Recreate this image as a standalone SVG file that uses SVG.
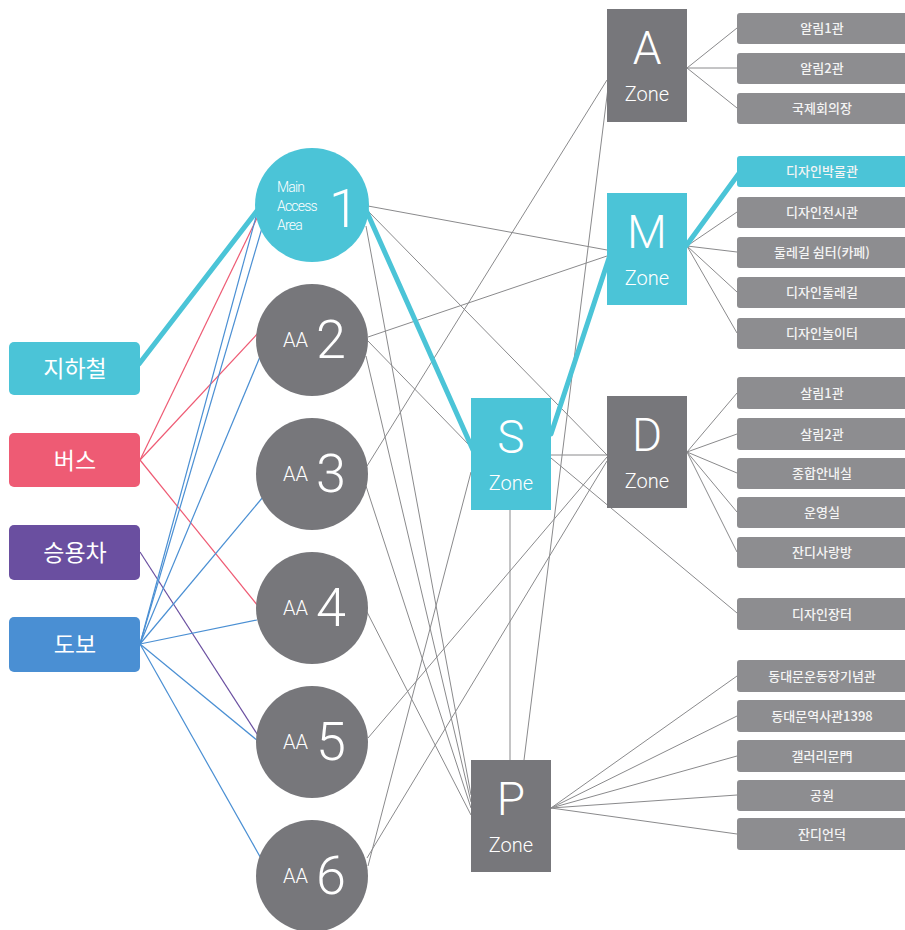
<svg xmlns="http://www.w3.org/2000/svg" width="905" height="930" viewBox="0 0 905 930">
<style>
.bg{fill:#ffffff}
.cy{fill:#4BC4D7}
.gz{fill:#77777B}
.it{fill:#8D8D90}
.ln{stroke:#8A8A8C;stroke-width:1;fill:none}
.thk{stroke:#4BC4D7;stroke-width:5;fill:none;stroke-linecap:round}
.red{stroke:#EE5B74;stroke-width:1.2;fill:none}
.blu{stroke:#4A8FD3;stroke-width:1.2;fill:none}
.pur{stroke:#6A4FA0;stroke-width:1.2;fill:none}
.kor{font-family:"Noto Sans CJK KR","Noto Sans",sans-serif;fill:#ffffff;text-anchor:middle}
.big{font-size:23px;font-weight:400}
.itx{font-size:13px;font-weight:500;fill:#F4F4F4}
.lat{font-family:Roboto,"Liberation Sans",sans-serif;font-weight:300;fill:#ffffff}
.zl{font-size:46px;text-anchor:middle}
.zn{font-size:20px;text-anchor:middle}
.aa{font-size:20px}
.dg{font-size:54px}
.ma{font-size:14px;letter-spacing:-0.8px}
</style>
<rect class="bg" x="0" y="0" width="905" height="930"/>
<g id="connectors">
<!-- left -->
<line class="red" x1="140" y1="460" x2="258" y2="216"/>
<line class="red" x1="140" y1="460" x2="260" y2="331"/>
<line class="red" x1="140" y1="460" x2="258" y2="606"/>
<line class="pur" x1="140" y1="552" x2="259" y2="737"/>
<line class="blu" x1="140" y1="644" x2="257" y2="213"/>
<line class="blu" x1="140" y1="644" x2="262" y2="228"/>
<line class="blu" x1="140" y1="644" x2="262" y2="352"/>
<line class="blu" x1="140" y1="644" x2="263" y2="497"/>
<line class="blu" x1="140" y1="644" x2="257" y2="620"/>
<line class="blu" x1="140" y1="644" x2="258" y2="741"/>
<line class="blu" x1="140" y1="644" x2="263" y2="862"/>
<!-- middle -->
<line class="ln" x1="368" y1="206" x2="607" y2="250"/>
<line class="ln" x1="369" y1="212" x2="607" y2="455"/>
<line class="ln" x1="366" y1="226" x2="471" y2="795"/>
<line class="ln" x1="368" y1="337" x2="607" y2="256"/>
<line class="ln" x1="368" y1="341" x2="471" y2="447"/>
<line class="ln" x1="366" y1="356" x2="471" y2="802"/>
<line class="ln" x1="367" y1="466" x2="607" y2="80"/>
<line class="ln" x1="366" y1="486" x2="471" y2="808"/>
<line class="ln" x1="367" y1="612" x2="471" y2="815"/>
<line class="ln" x1="368" y1="738" x2="607" y2="457"/>
<line class="ln" x1="367" y1="858" x2="607" y2="461"/>
<line class="ln" x1="368" y1="866" x2="471" y2="472"/>
<line class="ln" x1="551" y1="455" x2="607" y2="455"/>
<line class="ln" x1="551" y1="458" x2="737" y2="613"/>
<line class="ln" x1="510" y1="510" x2="510" y2="760"/>
<line class="ln" x1="524" y1="760" x2="608" y2="88"/>
<!-- zone to items -->
<line class="ln" x1="687" y1="68" x2="737" y2="28"/>
<line class="ln" x1="687" y1="68" x2="737" y2="68"/>
<line class="ln" x1="687" y1="68" x2="737" y2="108"/>
<line class="ln" x1="687" y1="246" x2="737" y2="212"/>
<line class="ln" x1="687" y1="246" x2="737" y2="252"/>
<line class="ln" x1="687" y1="246" x2="737" y2="292"/>
<line class="ln" x1="687" y1="246" x2="737" y2="333"/>
<line class="ln" x1="687" y1="452" x2="737" y2="393"/>
<line class="ln" x1="687" y1="452" x2="737" y2="434"/>
<line class="ln" x1="687" y1="452" x2="737" y2="473"/>
<line class="ln" x1="687" y1="452" x2="737" y2="512"/>
<line class="ln" x1="687" y1="452" x2="737" y2="552"/>
<line class="ln" x1="551" y1="808" x2="737" y2="676"/>
<line class="ln" x1="551" y1="808" x2="737" y2="716"/>
<line class="ln" x1="551" y1="808" x2="737" y2="756"/>
<line class="ln" x1="551" y1="808" x2="737" y2="795"/>
<line class="ln" x1="551" y1="808" x2="737" y2="834"/>
<!-- thick main route -->
<line class="thk" x1="139" y1="364" x2="260" y2="207"/>
<line class="thk" x1="366" y1="210" x2="473" y2="450"/>
<line class="thk" x1="551" y1="434" x2="609" y2="258"/>
<line class="thk" x1="686" y1="246" x2="740" y2="172"/>
</g>
<g id="n-subway"><rect class="cy" x="9" y="342" width="131" height="53" rx="5"/><text class="kor big" x="75" y="377">지하철</text></g>
<g id="n-bus"><rect x="9" y="433" width="131" height="54" rx="5" fill="#EE5B74"/><text class="kor big" x="75" y="469">버스</text></g>
<g id="n-car"><rect x="9" y="525" width="131" height="55" rx="5" fill="#6A4FA0"/><text class="kor big" x="75" y="561">승용차</text></g>
<g id="n-walk"><rect x="9" y="617" width="131" height="55" rx="5" fill="#4A8FD3"/><text class="kor big" x="75" y="653">도보</text></g>

<g id="n-aa1"><circle class="cy" cx="312" cy="205" r="57"/>
<text class="lat ma" x="277" y="192">Main</text><text class="lat ma" x="277" y="211">Access</text><text class="lat ma" x="277" y="230">Area</text>
<text class="lat dg" x="329" y="227">1</text></g>
<g id="n-aa2"><circle class="gz" cx="312" cy="340" r="56"/><text class="lat aa" x="283" y="347">AA</text><text class="lat dg" x="316" y="358">2</text></g>
<g id="n-aa3"><circle class="gz" cx="312" cy="474" r="56"/><text class="lat aa" x="283" y="481">AA</text><text class="lat dg" x="316" y="492">3</text></g>
<g id="n-aa4"><circle class="gz" cx="312" cy="608" r="56"/><text class="lat aa" x="283" y="615">AA</text><text class="lat dg" x="316" y="626">4</text></g>
<g id="n-aa5"><circle class="gz" cx="312" cy="742" r="56"/><text class="lat aa" x="283" y="749">AA</text><text class="lat dg" x="316" y="760">5</text></g>
<g id="n-aa6"><circle class="gz" cx="312" cy="876" r="56"/><text class="lat aa" x="283" y="883">AA</text><text class="lat dg" x="316" y="894">6</text></g>

<g id="z-a"><rect class="gz" x="607" y="9" width="80" height="113"/><text class="lat zl" x="647" y="64">A</text><text class="lat zn" x="647" y="101">Zone</text></g>
<g id="z-m"><rect class="cy" x="607" y="193" width="80" height="112"/><text class="lat zl" x="647" y="248">M</text><text class="lat zn" x="647" y="285">Zone</text></g>
<g id="z-s"><rect class="cy" x="471" y="398" width="80" height="112"/><text class="lat zl" x="511" y="453">S</text><text class="lat zn" x="511" y="490">Zone</text></g>
<g id="z-d"><rect class="gz" x="607" y="396" width="80" height="112"/><text class="lat zl" x="647" y="451">D</text><text class="lat zn" x="647" y="488">Zone</text></g>
<g id="z-p"><rect class="gz" x="471" y="760" width="80" height="112"/><text class="lat zl" x="511" y="815">P</text><text class="lat zn" x="511" y="852">Zone</text></g>

<g id="i-a1"><rect class="it" x="737" y="13" width="175" height="31" rx="3"/><text class="kor itx" x="822" y="33">알림1관</text></g>
<g id="i-a2"><rect class="it" x="737" y="53" width="175" height="31" rx="3"/><text class="kor itx" x="822" y="73">알림2관</text></g>
<g id="i-a3"><rect class="it" x="737" y="93" width="175" height="31" rx="3"/><text class="kor itx" x="822" y="113">국제회의장</text></g>
<g id="i-m1"><rect class="cy" x="737" y="156" width="175" height="31" rx="3"/><text class="kor itx" x="822" y="176">디자인박물관</text></g>
<g id="i-m2"><rect class="it" x="737" y="197" width="175" height="31" rx="3"/><text class="kor itx" x="822" y="217">디자인전시관</text></g>
<g id="i-m3"><rect class="it" x="737" y="237" width="175" height="31" rx="3"/><text class="kor itx" x="822" y="257">둘레길 쉼터(카페)</text></g>
<g id="i-m4"><rect class="it" x="737" y="277" width="175" height="31" rx="3"/><text class="kor itx" x="822" y="297">디자인둘레길</text></g>
<g id="i-m5"><rect class="it" x="737" y="318" width="175" height="31" rx="3"/><text class="kor itx" x="822" y="338">디자인놀이터</text></g>
<g id="i-d1"><rect class="it" x="737" y="377" width="175" height="32" rx="3"/><text class="kor itx" x="822" y="398">살림1관</text></g>
<g id="i-d2"><rect class="it" x="737" y="418" width="175" height="32" rx="3"/><text class="kor itx" x="822" y="439">살림2관</text></g>
<g id="i-d3"><rect class="it" x="737" y="458" width="175" height="31" rx="3"/><text class="kor itx" x="822" y="478">종합안내실</text></g>
<g id="i-d4"><rect class="it" x="737" y="497" width="175" height="31" rx="3"/><text class="kor itx" x="822" y="517">운영실</text></g>
<g id="i-d5"><rect class="it" x="737" y="537" width="175" height="31" rx="3"/><text class="kor itx" x="822" y="557">잔디사랑방</text></g>
<g id="i-x1"><rect class="it" x="737" y="598" width="175" height="32" rx="3"/><text class="kor itx" x="822" y="619">디자인장터</text></g>
<g id="i-p1"><rect class="it" x="737" y="660" width="175" height="32" rx="3"/><text class="kor itx" x="822" y="681">동대문운동장기념관</text></g>
<g id="i-p2"><rect class="it" x="737" y="700" width="175" height="32" rx="3"/><text class="kor itx" x="822" y="721">동대문역사관1398</text></g>
<g id="i-p3"><rect class="it" x="737" y="740" width="175" height="32" rx="3"/><text class="kor itx" x="822" y="761">갤러리문門</text></g>
<g id="i-p4"><rect class="it" x="737" y="780" width="175" height="31" rx="3"/><text class="kor itx" x="822" y="800">공원</text></g>
<g id="i-p5"><rect class="it" x="737" y="818" width="175" height="32" rx="3"/><text class="kor itx" x="822" y="839">잔디언덕</text></g>
</svg>
